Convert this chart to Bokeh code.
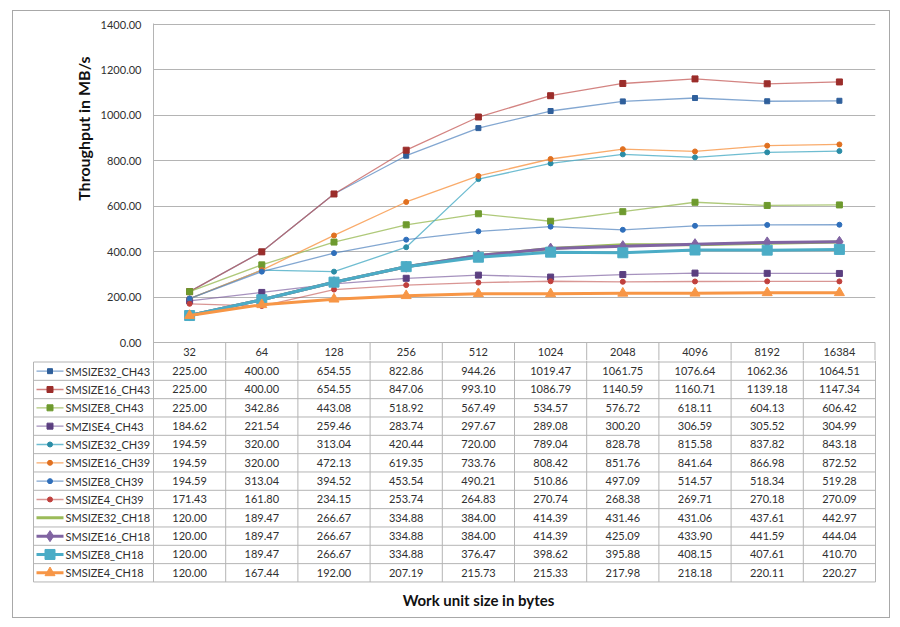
from bokeh.plotting import figure
from bokeh.layouts import column
from bokeh.models import (FactorRange, Range1d, FixedTicker, PrintfTickFormatter,
                          Title, ColumnDataSource)
from bokeh.core.properties import value
from bokeh.embed import file_html
from bokeh.resources import INLINE

# ---------------- data ----------------
categories = ["32", "64", "128", "256", "512", "1024", "2048", "4096", "8192", "16384"]

series_names = ["SMSIZE32_CH43", "SMSIZE16_CH43", "SMSIZE8_CH43", "SMZISE4_CH43",
                "SMSIZE32_CH39", "SMSIZE16_CH39", "SMSIZE8_CH39", "SMSIZE4_CH39",
                "SMSIZE32_CH18", "SMSIZE16_CH18", "SMSIZE8_CH18", "SMSIZE4_CH18"]

smsize32_ch43 = [225.00, 400.00, 654.55, 822.86, 944.26, 1019.47, 1061.75, 1076.64, 1062.36, 1064.51]
smsize16_ch43 = [225.00, 400.00, 654.55, 847.06, 993.10, 1086.79, 1140.59, 1160.71, 1139.18, 1147.34]
smsize8_ch43 = [225.00, 342.86, 443.08, 518.92, 567.49, 534.57, 576.72, 618.11, 604.13, 606.42]
smzise4_ch43 = [184.62, 221.54, 259.46, 283.74, 297.67, 289.08, 300.20, 306.59, 305.52, 304.99]
smsize32_ch39 = [194.59, 320.00, 313.04, 420.44, 720.00, 789.04, 828.78, 815.58, 837.82, 843.18]
smsize16_ch39 = [194.59, 320.00, 472.13, 619.35, 733.76, 808.42, 851.76, 841.64, 866.98, 872.52]
smsize8_ch39 = [194.59, 313.04, 394.52, 453.54, 490.21, 510.86, 497.09, 514.57, 518.34, 519.28]
smsize4_ch39 = [171.43, 161.80, 234.15, 253.74, 264.83, 270.74, 268.38, 269.71, 270.18, 270.09]
smsize32_ch18 = [120.00, 189.47, 266.67, 334.88, 384.00, 414.39, 431.46, 431.06, 437.61, 442.97]
smsize16_ch18 = [120.00, 189.47, 266.67, 334.88, 384.00, 414.39, 425.09, 433.90, 441.59, 444.04]
smsize8_ch18 = [120.00, 189.47, 266.67, 334.88, 376.47, 398.62, 395.88, 408.15, 407.61, 410.70]
smsize4_ch18 = [120.00, 167.44, 192.00, 207.19, 215.73, 215.33, 217.98, 218.18, 220.11, 220.27]

series_values = [smsize32_ch43, smsize16_ch43, smsize8_ch43, smzise4_ch43,
                 smsize32_ch39, smsize16_ch39, smsize8_ch39, smsize4_ch39,
                 smsize32_ch18, smsize16_ch18, smsize8_ch18, smsize4_ch18]

y_ticks = [0, 200, 400, 600, 800, 1000, 1200, 1400]

# ---------------- styles ----------------
styles = [
    # line color, marker, marker size, line width, line alpha, marker color
    ("#4F81BD", "square", 5, 1.3, 0.7, "#2F5F9B"),
    ("#C0504D", "square", 6, 1.3, 0.7, "#9B2D2A"),
    ("#9BBB59", "square", 6, 1.3, 0.8, "#6E9A2E"),
    ("#8064A2", "square", 6, 1.3, 0.7, "#5B3F80"),
    ("#4BACC6", "circle", 5, 1.3, 0.8, "#2A8CA6"),
    ("#F79646", "circle", 5, 1.3, 0.8, "#E07020"),
    ("#4F81BD", "circle", 5, 1.3, 0.7, "#2F6FBB"),
    ("#C0504D", "circle", 5, 1.3, 0.6, "#C0403D"),
    ("#9BBB59", None, 0, 3.0, 1.0, None),
    ("#8064A2", "diamond", 11, 3.0, 1.0, "#8064A2"),
    ("#4BACC6", "square", 10, 3.0, 1.0, "#4BACC6"),
    ("#F79646", "triangle", 10, 3.0, 1.0, "#F79646"),
]

FONT = "Lato"
GRID = "#b4b4b4"
TXT = "#303030"

# ---------------- geometry (page pixels) ----------------
X0, Y0 = 13, 11            # content origin inside the border
XR, YB = 889, 617          # right / bottom border
PL, PR = 153, 875          # plot area left / right
PT = 23                    # plot frame top
Y1400, YZERO = 24.0, 342.3
SPLIT = 360                # boundary between chart figure and table figure
ROW0 = 361.5               # top of first data row
ROW_H = 18.33
COL = (PR - PL) / 10.0
u = 1400.0 / (YZERO - Y1400)

WA = XR - X0
HA = SPLIT - Y0
HB = YB - SPLIT


def sx(px):
    return (px - PL) / COL


def ya(py):
    return (YZERO - py) * u


def yb(py):
    return -(py - ROW0) / ROW_H


# ---------------- chart figure ----------------
pa = figure(width=WA, height=HA, output_backend="svg", toolbar_location=None,
            x_range=FactorRange(factors=categories),
            y_range=Range1d(ya(SPLIT), ya(PT)),
            x_axis_location=None,
            min_border_left=PL - X0, min_border_right=XR - PR,
            min_border_top=PT - Y0, min_border_bottom=0)
pa.outline_line_color = None
pa.xgrid.visible = False
pa.ygrid.ticker = FixedTicker(ticks=y_ticks)
pa.ygrid.grid_line_color = GRID

ax = pa.yaxis[0]
ax.ticker = FixedTicker(ticks=y_ticks)
ax.formatter = PrintfTickFormatter(format="%.2f")
ax.major_tick_out = 0
ax.major_tick_in = 0
ax.minor_tick_out = 0
ax.minor_tick_in = 0
ax.major_label_standoff = 12
ax.major_label_text_font = FONT
ax.major_label_text_font_size = "11px"
ax.major_label_text_color = TXT
ax.axis_line_color = GRID

ytitle = Title(text="Throughput in MB/s", align="right", offset=33,
               text_font=FONT, text_font_size="16px", text_font_style="bold",
               text_color="#111111")
pa.add_layout(ytitle, "left")

for vals, st in zip(series_values, styles):
    color, marker, msize, lw, la, mc = st
    src = ColumnDataSource(dict(x=categories, y=vals))
    pa.line("x", "y", source=src, line_color=color, line_width=lw, line_alpha=la)
    if marker is not None:
        pa.scatter("x", "y", source=src, marker=marker, size=msize,
                   fill_color=mc, line_color=mc)

# header row of the data table (category labels)
pa.segment(x0=list(range(1, 10)), x1=list(range(1, 10)), y0=[0] * 9, y1=[ya(SPLIT)] * 9,
           line_color=GRID, line_width=1)
pa.segment(x0=[10], x1=[10], y0=[0], y1=[ya(SPLIT)], line_color=GRID, line_width=2)
pa.text(x=categories, y=[ya((YZERO + ROW0) / 2)] * len(categories), text=categories,
        text_align="center", text_baseline="middle", text_font=value(FONT),
        text_font_size="11px", text_color=TXT)

# ---------------- table figure ----------------
pb = figure(width=WA, height=HB, output_backend="svg", toolbar_location=None,
            x_range=Range1d(sx(X0), sx(XR)), y_range=Range1d(yb(YB), yb(SPLIT)),
            x_axis_location=None, y_axis_location=None,
            min_border=0, min_border_left=0, min_border_right=0,
            min_border_top=0, min_border_bottom=0)
pb.outline_line_color = None
pb.grid.visible = False

for fig in (pa, pb):
    if "frame_align" in fig.properties():
        fig.frame_align = False

nrows = len(series_names)
LEGL = sx(33)
pb.segment(x0=[LEGL] * (nrows + 1), x1=[10] * (nrows + 1),
           y0=[-k for k in range(nrows + 1)], y1=[-k for k in range(nrows + 1)],
           line_color=GRID, line_width=1)
pb.segment(x0=list(range(0, 11)), x1=list(range(0, 11)),
           y0=[yb(SPLIT)] * 11, y1=[-nrows] * 11, line_color=GRID, line_width=1)
pb.segment(x0=[LEGL], x1=[LEGL], y0=[0], y1=[-nrows], line_color=GRID, line_width=1)

tx, ty, tt = [], [], []
for k, vals in enumerate(series_values):
    for j, v in enumerate(vals):
        tx.append(j + 0.5)
        ty.append(-(k + 0.5))
        tt.append(f"{v:.2f}")
pb.text(x="x", y="y", text="t", source=ColumnDataSource(dict(x=tx, y=ty, t=tt)),
        text_align="center", text_baseline="middle", text_font=value(FONT),
        text_font_size="11px", text_color=TXT)

# legend keys inside the table
for k, (name, st) in enumerate(zip(series_names, styles)):
    color, marker, msize, lw, la, mc = st
    yc = -(k + 0.5)
    pb.line(x=[sx(36), sx(63)], y=[yc, yc], line_color=color, line_width=lw, line_alpha=la)
    if marker is not None:
        pb.scatter(x=[sx(49.5)], y=[yc], marker=marker, size=msize,
                   fill_color=mc, line_color=mc)
pb.text(x=[sx(65)] * nrows, y=[-(k + 0.5) for k in range(nrows)], text=series_names,
        text_align="left", text_baseline="middle", text_font=value(FONT),
        text_font_size="11px", text_color=TXT)

pb.text(x=[sx(478)], y=[yb(599)], text=["Work unit size in bytes"],
        text_align="center", text_baseline="middle", text_font=value(FONT),
        text_font_size="15px", text_font_style="bold", text_color="#111111")

layout = column(pa, pb, spacing=0, margin=(Y0 - 1, 0, 0, X0 - 1),
                styles={"border": "1px solid #a8a8a8"})

open("out.html", "w").write(file_html(layout, INLINE))
